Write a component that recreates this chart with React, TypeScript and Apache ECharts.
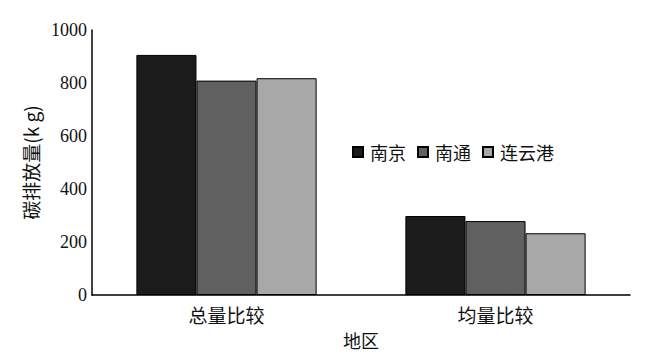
import React, { useEffect, useRef } from "react";
import * as echarts from "echarts";

const categories = ["总量比较", "均量比较"];
const seriesNames = ["南京", "南通", "连云港"];
const nanjing = [906, 298];
const nantong = [809, 279];
const lianyungang = [818, 233];
const colors = ["#1b1b1b", "#606060", "#a8a8a8"];
const yTicks = [0, 200, 400, 600, 800, 1000];

const cjk = "'Noto Sans CJK SC', 'Liberation Serif', serif";
const num = "'Liberation Serif', 'Times New Roman', serif";

export default function App() {
  const ref = useRef<HTMLDivElement>(null);
  useEffect(() => {
    if (!ref.current) return;
    const chart = echarts.init(ref.current, undefined, { renderer: "svg" });
    const data = [nanjing, nantong, lianyungang];
    chart.setOption({
      animation: false,
      backgroundColor: "#ffffff",
      grid: { left: 92, right: 34, top: 30, bottom: 66, containLabel: false },
      legend: {
        data: seriesNames,
        left: 347,
        top: 138,
        itemWidth: 10,
        itemHeight: 10,
        itemGap: 11,
        icon: "rect",
        textStyle: { fontFamily: cjk, fontSize: 18, color: "#111", padding: [0, 0, 0, 2] },
      },
      xAxis: {
        type: "category",
        data: categories,
        name: "地区",
        nameLocation: "middle",
        nameGap: 36,
        nameTextStyle: { fontFamily: cjk, fontSize: 18, color: "#111" },
        axisLine: { lineStyle: { color: "#000", width: 1.5 } },
        axisTick: { show: false },
        axisLabel: { fontFamily: cjk, fontSize: 19, color: "#111", margin: 10 },
      },
      yAxis: {
        type: "value",
        min: 0,
        max: 1000,
        interval: 200,
        name: "碳排放量(k g)",
        nameLocation: "middle",
        nameGap: 50,
        nameTextStyle: { fontFamily: cjk, fontSize: 19, color: "#111" },
        axisLine: { show: true, lineStyle: { color: "#000", width: 1.5 } },
        axisTick: { show: false },
        splitLine: { show: false },
        axisLabel: {
          fontFamily: num,
          fontSize: 18,
          color: "#111",
          margin: 5,
          formatter: (v: number) => (yTicks.includes(v) ? String(v) : ""),
        },
      },
      series: seriesNames.map((n, i) => ({
        name: n,
        type: "bar",
        data: data[i],
        barGap: "0%",
        barCategoryGap: "33%",
        itemStyle: { color: colors[i], borderColor: "#000", borderWidth: 1 },
      })),
    });
    return () => chart.dispose();
  }, []);
  return <div ref={ref} style={{ width: 664, height: 361, margin: -8 }} />;
}
